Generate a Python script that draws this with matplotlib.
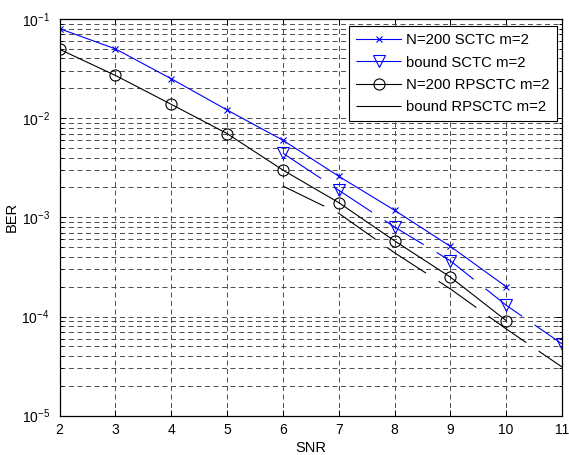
import matplotlib
matplotlib.use("Agg")
import matplotlib.pyplot as plt
import numpy as np
from matplotlib.ticker import LogLocator, NullLocator, NullFormatter, MultipleLocator

plt.rcParams['font.family'] = ['Liberation Sans', 'DejaVu Sans']
plt.rcParams['lines.scale_dashes'] = False

snr_sim = [2, 3, 4, 5, 6, 7, 8, 9, 10]
ber_sctc = [0.080, 0.050, 0.025, 0.0121, 0.0060, 0.0026, 0.00118, 5.1e-4, 2.0e-4]
ber_rpsctc = [0.0495, 0.027, 0.0138, 0.0070, 0.0030, 0.00141, 5.8e-4, 2.5e-4, 9.1e-5]

snr_bound = [6, 7, 8, 9, 10, 11]
bound_sctc = [0.00444, 0.00188, 8.0e-4, 3.65e-4, 1.30e-4, 5.3e-5]
bound_rpsctc = [0.00207, 0.00110, 4.4e-4, 1.9e-4, 7.5e-5, 3.1e-5]

labels = ['N=200 SCTC m=2', 'bound SCTC m=2', 'N=200 RPSCTC m=2', 'bound RPSCTC m=2']

W, H = 569, 455
fig = plt.figure(figsize=(W / 100, H / 100), dpi=100)
ax = fig.add_axes([59.5 / W, 1 - 415.7 / H, (562 - 59.5) / W, (415.7 - 19) / H])

pt = 72 / 100.0  # points per pixel
dash = (0, (46 * pt, 15 * pt))

ax.plot(snr_sim, ber_sctc, color='b', lw=0.8, marker='x', ms=5, mew=0.8, label=labels[0])
ax.plot(snr_bound, bound_sctc, color='b', lw=0.8, ls=dash, marker='v', ms=8, mfc='none', mew=0.8, label=labels[1])
ax.plot(snr_sim, ber_rpsctc, color='k', lw=0.8, marker='o', ms=8, mfc='none', mew=0.8, label=labels[2])
ax.plot(snr_bound, bound_rpsctc, color='k', lw=0.8, ls=dash, label=labels[3])

ax.set_yscale('log')
ax.set_xlim(2, 11)
ax.set_ylim(1e-5, 1e-1)
ax.xaxis.set_major_locator(MultipleLocator(1))
ax.xaxis.set_minor_locator(NullLocator())
ax.yaxis.set_major_locator(LogLocator(base=10, numticks=10))
ax.yaxis.set_minor_locator(LogLocator(base=10, subs=np.arange(2, 10), numticks=50))
ax.yaxis.set_minor_formatter(NullFormatter())

grid_dash = (0, (5 * pt, 3.5 * pt))
ax.grid(True, which='major', axis='both', color='0.3', lw=0.7, ls=grid_dash)
ax.grid(True, which='minor', axis='y', color='0.3', lw=0.7, ls=grid_dash)
ax.set_axisbelow(True)

ax.tick_params(which='both', direction='in', top=True, right=True, labelsize=10, width=0.7)
ax.tick_params(which='major', length=4)
ax.tick_params(which='minor', length=2.5)
ax.tick_params(axis='x', pad=5)
ax.tick_params(axis='y', pad=7)
for s in ax.spines.values():
    s.set_linewidth(0.9)

ax.set_xlabel('SNR', fontsize=10.5, labelpad=3)
ax.set_ylabel('BER', fontsize=10.5, labelpad=2)

leg = ax.legend(loc='upper right', bbox_to_anchor=(556.7 / W, 1 - 26 / H), bbox_transform=fig.transFigure,
                borderaxespad=0, fancybox=False, framealpha=1, edgecolor='k', fontsize=10.7,
                handlelength=3.0, handletextpad=0.33, labelspacing=0.55, borderpad=0.5)
leg.get_frame().set_linewidth(0.8)

fig.savefig('out.png', dpi=100)
